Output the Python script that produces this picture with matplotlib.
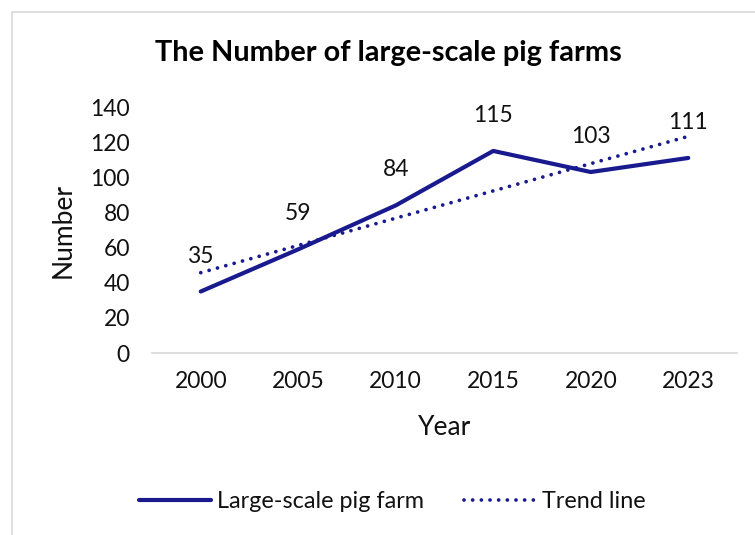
import numpy as np
import matplotlib
matplotlib.use("Agg")
import matplotlib.pyplot as plt
from matplotlib.patches import Rectangle

years = ["2000", "2005", "2010", "2015", "2020", "2023"]
farms = [35, 59, 84, 115, 103, 111]
y_ticks = [0, 20, 40, 60, 80, 100, 120, 140]

title = "The Number of large-scale pig farms"
x_label = "Year"
y_label = "Number"
series_label = "Large-scale pig farm"
trend_label = "Trend line"

plt.rcParams['font.family'] = ['Lato', 'DejaVu Sans']
color = '#1a1a8f'
fs = 16.5
txt = '#111111'

fig = plt.figure(figsize=(7.55, 5.35), dpi=100)
fig.patches.append(Rectangle((12/755, -0.1), 1.2, 1 - 12/535 + 0.1, transform=fig.transFigure,
                             fill=False, edgecolor='#d9d9d9', linewidth=1.2))

ax = fig.add_axes([152/755, 1 - 353/535, 585/755, 246/535])
x = np.arange(len(years))
y = np.array(farms, dtype=float)

# linear trend (least squares over category index)
coef = np.polyfit(x, y, 1)
trend = np.polyval(coef, x)

ax.plot(x, y, color=color, lw=3.0, solid_capstyle='round', label=series_label, zorder=3)
ax.plot(x, trend, color=color, lw=2.7, linestyle=(0, (0.01, 2.3)), dash_capstyle='round',
        label=trend_label, zorder=2)

for xi, yi in zip(x, farms):
    ax.annotate(str(yi), (xi, yi), xytext=(0, 25.5), textcoords='offset points',
                ha='center', va='center', fontsize=fs, color=txt)

ax.set_xlim(-0.5, len(years) - 0.5)
ax.set_ylim(0, 140)
ax.set_xticks(x)
ax.set_xticklabels(years)
ax.set_yticks(y_ticks)
ax.tick_params(axis='both', length=0, labelsize=fs, colors=txt)
ax.tick_params(axis='y', pad=16)
ax.tick_params(axis='x', pad=13)
for s in ['top', 'right', 'left']:
    ax.spines[s].set_visible(False)
ax.spines['bottom'].set_color('#d9d9d9')
ax.spines['bottom'].set_linewidth(1.2)

ax.set_xlabel(x_label, fontsize=19, color=txt)
ax.set_ylabel(y_label, fontsize=19, color=txt)
ax.xaxis.set_label_coords(0.5, -(427 - 353) / 246)
ax.yaxis.set_label_coords((63 - 152) / 585, 0.5)
ax.xaxis.label.set_va('center')
ax.yaxis.label.set_va('center')

fig.text(388/755, 1 - 53/535, title, ha='center', va='center', fontsize=20.8,
         fontweight='bold', color='#000000')

handles, labels = ax.get_legend_handles_labels()
fig.legend(handles, labels, loc='center', bbox_to_anchor=(392/755, 1 - 502/535), ncol=2,
           frameon=False, fontsize=16.8, handlelength=3.1, handletextpad=0.25,
           columnspacing=1.7, labelcolor=txt)

fig.savefig("out.png", dpi=100)
